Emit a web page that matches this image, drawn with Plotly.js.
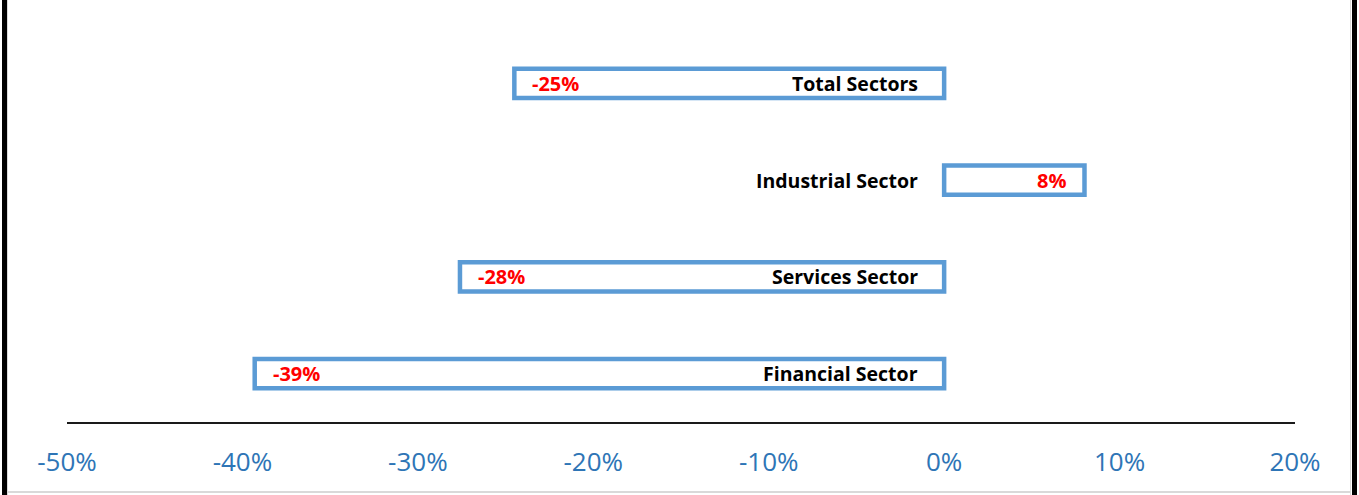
<!DOCTYPE html>
<html>
<head>
<meta charset="utf-8">
<script src="https://cdn.plot.ly/plotly-3.0.1.min.js"></script>
<style>
  html, body { margin: 0; padding: 0; background: #fff; }
  #wrap { position: relative; width: 1359px; height: 495px; overflow: hidden; background: #fff; }
  #chart { position: absolute; left: 0; top: 0; width: 1359px; height: 495px; }
  .frame { position: absolute; pointer-events: none; }
</style>
</head>
<body>
<div id="wrap">
  <div id="chart"></div>
  <div class="frame" style="left:2px;top:0;width:5px;height:495px;background:#000;"></div>
  <div class="frame" style="left:7px;top:0;width:1px;height:495px;background:#d9d9d9;"></div>
  <div class="frame" style="left:1352px;top:0;width:5px;height:495px;background:#000;"></div>
  <div class="frame" style="left:1350px;top:0;width:1px;height:495px;background:#d9d9d9;"></div>
  <div class="frame" style="left:7px;top:491px;width:1344px;height:2px;background:#d9d9d9;"></div>
</div>
<script>
const categories = ['Total Sectors', 'Industrial Sector', 'Services Sector', 'Financial Sector'];
const values = [-24.5, 8, -27.6, -39.3];
const valueLabels = ['-25%', '8%', '-28%', '-39%'];
const tickValues = [-50, -40, -30, -20, -10, 0, 10, 20];
const tickLabels = ['-50%', '-40%', '-30%', '-20%', '-10%', '0%', '10%', '20%'];

const trace = {
  type: 'bar',
  orientation: 'h',
  x: values,
  y: categories,
  width: 0.3,
  marker: { color: '#ffffff', line: { color: '#5B9BD5', width: 4.5 } },
  hoverinfo: 'none'
};

const annotations = [];
categories.forEach((c, i) => {
  annotations.push({
    x: 0, y: c, xref: 'x', yref: 'y',
    text: '<b>' + c + '</b>',
    showarrow: false, xanchor: 'right', yanchor: 'middle', xshift: -24,
    font: { family: 'Open Sans', size: 19.5, color: '#000000' }
  });
  const v = values[i];
  annotations.push({
    x: v, y: c, xref: 'x', yref: 'y',
    text: '<b>' + valueLabels[i] + '</b>',
    showarrow: false, xanchor: v < 0 ? 'left' : 'right', yanchor: 'middle',
    xshift: v < 0 ? 16 : -16,
    font: { family: 'Open Sans', size: 20, color: '#FF0000' }
  });
});

const layout = {
  width: 1359, height: 495,
  margin: { l: 67, r: 64, t: 35, b: 73, pad: 0 },
  paper_bgcolor: 'rgba(0,0,0,0)', plot_bgcolor: 'rgba(0,0,0,0)',
  showlegend: false,
  xaxis: {
    range: [-50, 20],
    tickvals: tickValues, ticktext: tickLabels,
    showgrid: false, zeroline: false,
    showline: true, linecolor: '#1a1a1a', linewidth: 2,
    ticks: 'outside', ticklen: 16, tickcolor: 'rgba(0,0,0,0)',
    tickfont: { family: 'Open Sans', size: 26, color: '#2E75B6' },
    fixedrange: true
  },
  yaxis: {
    type: 'category',
    categoryorder: 'array', categoryarray: categories,
    range: [3.5, -0.5],
    showticklabels: false, showgrid: false, zeroline: false, showline: false, ticks: '',
    fixedrange: true
  },
  annotations: annotations
};

Plotly.newPlot('chart', [trace], layout, { staticPlot: true, displayModeBar: false });
</script>
</body>
</html>
